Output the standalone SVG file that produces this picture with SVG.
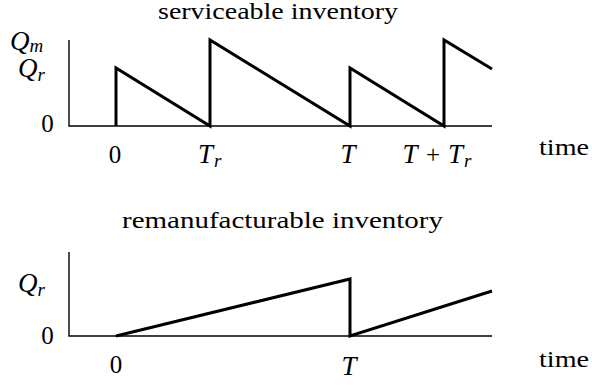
<svg xmlns="http://www.w3.org/2000/svg" width="592" height="385" viewBox="0 0 592 385">
<style>
.ax{fill:none;stroke:#000;stroke-width:1.4}
.cv{fill:none;stroke:#000;stroke-width:3;stroke-linejoin:miter;stroke-linecap:butt}
text{font-family:"Liberation Serif","Times New Roman",serif;font-size:25px;fill:#000}
.t{font-size:23px}
.m{font-style:italic;font-size:27px}
.s{font-size:19px;font-style:italic}
.c{text-anchor:middle}
</style>
<rect width="592" height="385" fill="#fff"/>
<g id="serviceable-chart">
<text x="278" y="19" class="c t" textLength="240" lengthAdjust="spacingAndGlyphs">serviceable inventory</text>
<g id="s-yaxis-labels">
<text x="10" y="50" class="m">Q<tspan class="s" dy="2">m</tspan></text>
<text x="18" y="77" class="m">Q<tspan class="s" dy="4">r</tspan></text>
<text x="47.5" y="132" class="c">0</text>
</g>
<g id="s-xaxis-labels">
<text x="115" y="163" class="c">0</text>
<text x="198" y="163" class="m">T<tspan class="s" dx="1" dy="4">r</tspan></text>
<text x="348" y="163" class="m c">T</text>
<text x="410" y="163" class="m c">T</text>
<text x="433" y="163" class="c">+</text>
<text x="448" y="163" class="m">T<tspan class="s" dx="1" dy="4">r</tspan></text>
<text x="539" y="155" class="t" textLength="50" lengthAdjust="spacingAndGlyphs">time</text>
</g>
</g>
<g id="remanufacturable-chart">
<text x="282.5" y="228" class="c t" textLength="321" lengthAdjust="spacingAndGlyphs">remanufacturable inventory</text>
<g id="r-yaxis-labels">
<text x="18" y="292" class="m">Q<tspan class="s" dy="4">r</tspan></text>
<text x="47.5" y="344" class="c">0</text>
</g>
<g id="r-xaxis-labels">
<text x="116" y="373" class="c">0</text>
<text x="349" y="375" class="m c">T</text>
<text x="539" y="367" class="t" textLength="50" lengthAdjust="spacingAndGlyphs">time</text>
</g>
</g>
<g id="connectors">
<path class="ax" d="M69,40 V126 H492"/>
<path class="cv" d="M116,126 V68 L210,126 V40 L350,126 V68 L444,126 V40 L492,69"/>
<path class="ax" d="M69,252 V336 H492"/>
<path class="cv" d="M116,336 L350,279 V336 L492,291"/>
</g>
</svg>
